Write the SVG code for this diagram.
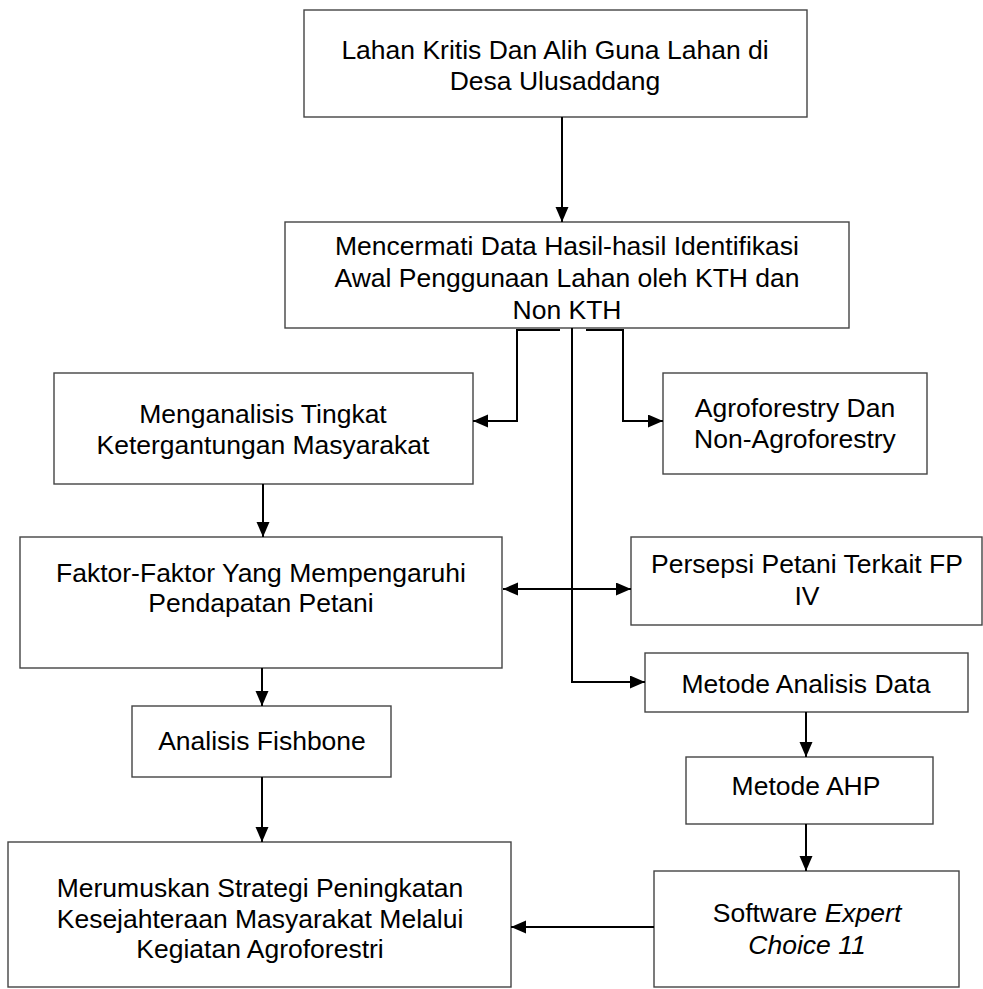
<svg xmlns="http://www.w3.org/2000/svg" width="983" height="989" viewBox="0 0 983 989">
<style>
.box{fill:#fff;stroke:#444;stroke-width:1.4}
.t{font-family:"Liberation Sans",Arial,sans-serif;font-size:26.5px;fill:#000;text-anchor:middle}
.c{fill:none;stroke:#000;stroke-width:2}
</style>
<defs>
<marker id="ah" markerUnits="userSpaceOnUse" markerWidth="16" markerHeight="14" refX="15" refY="6.5" orient="auto-start-reverse">
<path d="M0,0 L15,6.5 L0,13 z" fill="#000"/>
</marker>
</defs>
<rect width="983" height="989" fill="#fff"/>
<g id="n1"><rect class="box" x="304" y="10" width="503" height="107"/>
<text class="t" x="555" y="59">Lahan Kritis Dan Alih Guna Lahan di</text>
<text class="t" x="555" y="90">Desa Ulusaddang</text></g>
<g id="n2"><rect class="box" x="285" y="222" width="564" height="106"/>
<text class="t" x="567" y="255">Mencermati Data Hasil-hasil Identifikasi</text>
<text class="t" x="567" y="287">Awal Penggunaan Lahan oleh KTH dan</text>
<text class="t" x="567" y="319">Non KTH</text></g>
<g id="n3"><rect class="box" x="54" y="373" width="419" height="111"/>
<text class="t" x="263" y="423">Menganalisis Tingkat</text>
<text class="t" x="263" y="454">Ketergantungan Masyarakat</text></g>
<g id="n4"><rect class="box" x="663" y="373" width="264" height="101"/>
<text class="t" x="795" y="417">Agroforestry Dan</text>
<text class="t" x="795" y="448">Non-Agroforestry</text></g>
<g id="n5"><rect class="box" x="20" y="537" width="482" height="131"/>
<text class="t" x="261" y="582">Faktor-Faktor Yang Mempengaruhi</text>
<text class="t" x="261" y="612">Pendapatan Petani</text></g>
<g id="n6"><rect class="box" x="631" y="537" width="351" height="88"/>
<text class="t" x="807" y="573">Persepsi Petani Terkait FP</text>
<text class="t" x="807" y="605">IV</text></g>
<g id="n7"><rect class="box" x="645" y="653" width="323" height="59"/>
<text class="t" x="806" y="693">Metode Analisis Data</text></g>
<g id="n8"><rect class="box" x="686" y="757" width="247" height="67"/>
<text class="t" x="806" y="795">Metode AHP</text></g>
<g id="n9"><rect class="box" x="132" y="706" width="259" height="71"/>
<text class="t" x="262" y="750">Analisis Fishbone</text></g>
<g id="n10"><rect class="box" x="8" y="842" width="503" height="145"/>
<text class="t" x="260" y="897">Merumuskan Strategi Peningkatan</text>
<text class="t" x="260" y="928">Kesejahteraan Masyarakat Melalui</text>
<text class="t" x="260" y="958">Kegiatan Agroforestri</text></g>
<g id="n11"><rect class="box" x="654" y="871" width="305" height="116"/>
<text class="t" x="807" y="922">Software <tspan font-style="italic">Expert</tspan></text>
<text class="t" x="807" y="954" font-style="italic">Choice 11</text></g>
<g id="connectors">
<path class="c" d="M562,117 V222" marker-end="url(#ah)"/>
<path class="c" d="M560,330 H517 V421 H473" marker-end="url(#ah)"/>
<path class="c" d="M586,330 H623 V421 H663" marker-end="url(#ah)"/>
<path class="c" d="M572,328 V682 H645" marker-end="url(#ah)"/>
<path class="c" d="M503,589 H631" marker-start="url(#ah)" marker-end="url(#ah)"/>
<path class="c" d="M263,484 V537" marker-end="url(#ah)"/>
<path class="c" d="M262,668 V706" marker-end="url(#ah)"/>
<path class="c" d="M262,777 V842" marker-end="url(#ah)"/>
<path class="c" d="M806,712 V757" marker-end="url(#ah)"/>
<path class="c" d="M806,824 V871" marker-end="url(#ah)"/>
<path class="c" d="M654,927 H511" marker-end="url(#ah)"/>
</g>
</svg>
